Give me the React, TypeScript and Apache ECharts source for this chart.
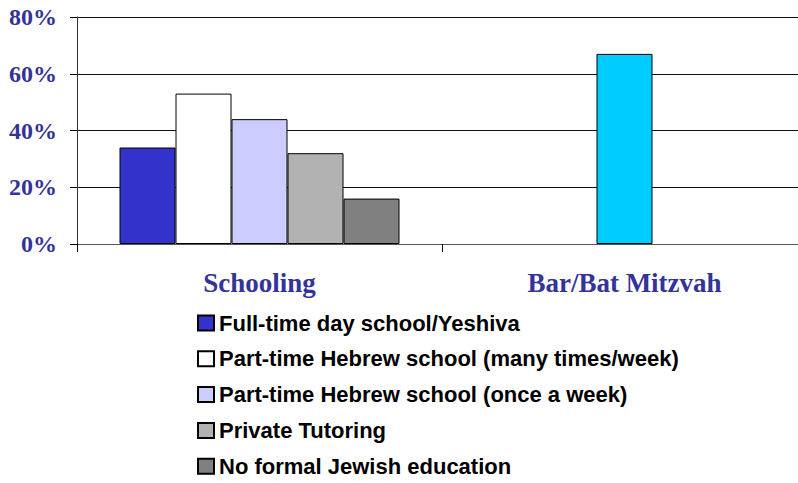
import React, { useEffect, useRef } from "react";
import * as echarts from "echarts";

const categories = ["Schooling", "Bar/Bat Mitzvah"];
const seriesNames = [
  "Full-time day school/Yeshiva",
  "Part-time Hebrew school (many times/week)",
  "Part-time Hebrew school (once a week)",
  "Private Tutoring",
  "No formal Jewish education",
];
const fullTime = [34, null];
const partTimeMany = [53, null];
const partTimeOnce = [44, 67];
const privateTutoring = [32, null];
const noFormal = [16, null];
const seriesColors = ["#3333CC", "#FFFFFF", "#CCCCFF", "#B2B2B2", "#808080"];
const barMitzvahColor = "#00CCFF";
const yTicks = [0, 20, 40, 60, 80];

export default function App() {
  const ref = useRef<HTMLDivElement>(null);
  useEffect(() => {
    if (!ref.current) return;
    const chart = echarts.init(ref.current, null, { renderer: "svg" });
    const values = [fullTime, partTimeMany, partTimeOnce, privateTutoring, noFormal];
    const series = values.map((vals, i) => ({
      name: seriesNames[i],
      type: "bar",
      barWidth: 56,
      barGap: "0%",
      itemStyle: { color: seriesColors[i], borderColor: "#000", borderWidth: 1 },
      data: vals.map((v, j) =>
        i === 2 && j === 1
          ? { value: v, itemStyle: { color: barMitzvahColor, borderColor: "#000", borderWidth: 1 } }
          : v
      ),
    }));
    chart.setOption({
      animation: false,
      backgroundColor: "#fff",
      grid: { left: 77, top: 17, width: 730, height: 227, containLabel: false },
      legend: {
        orient: "vertical",
        left: 192,
        top: 306,
        height: 180,
        itemWidth: 16,
        itemHeight: 15,
        itemGap: 11.8,
        icon: "rect",
        data: seriesNames,
        textStyle: {
          fontFamily: "Liberation Sans, Arial, sans-serif",
          fontWeight: "bold",
          fontSize: 22,
          lineHeight: 24,
          color: "#000",
        },
      },
      xAxis: {
        type: "category",
        data: categories,
        axisLine: { show: true, lineStyle: { color: "#555", width: 1 } },
        axisTick: { show: true, length: 8, lineStyle: { color: "#000" } },
        axisLabel: {
          margin: 25,
          fontFamily: "Liberation Serif, Times New Roman, serif",
          fontWeight: "bold",
          fontSize: 27,
          color: "#333399",
        },
      },
      yAxis: {
        type: "value",
        min: yTicks[0],
        max: yTicks[yTicks.length - 1],
        interval: 20,
        axisLine: { show: true, lineStyle: { color: "#333", width: 1 } },
        axisTick: { show: true, length: 7, lineStyle: { color: "#000" } },
        splitLine: { show: true, lineStyle: { color: "#111", width: 1 } },
        axisLabel: {
          margin: 20,
          formatter: "{value}%",
          fontFamily: "Liberation Serif, Times New Roman, serif",
          fontWeight: "bold",
          fontSize: 24,
          color: "#333399",
        },
      },
      series,
    });
    return () => chart.dispose();
  }, []);
  return (
    <div style={{ position: "fixed", left: 0, top: 0, width: 798, height: 483, overflow: "hidden", background: "#fff" }}>
      <div ref={ref} style={{ width: 810, height: 483 }} />
    </div>
  );
}
